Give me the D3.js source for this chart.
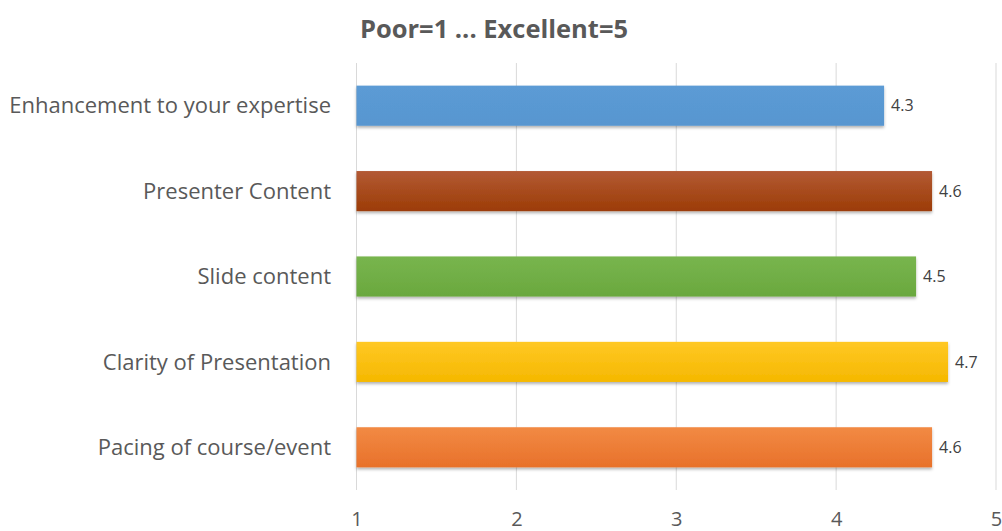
<!DOCTYPE html>
<html><head><meta charset="utf-8">
<script src="https://cdn.jsdelivr.net/npm/d3@7"></script>
<style>body{margin:0;background:#fff;}svg{display:block;}</style>
</head><body>
<svg id="c" width="1002" height="531"></svg>
<script>
const categories = ["Enhancement to your expertise","Presenter Content","Slide content","Clarity of Presentation","Pacing of course/event"];
const values = [4.3, 4.6, 4.5, 4.7, 4.6];
const valueLabels = ["4.3","4.6","4.5","4.7","4.6"];
const colorsTop = ["#5b9bd5","#b35a35","#78b54e","#ffc824","#f28a44"];
const colorsBot = ["#5896d0","#9c3c06","#6aa83e","#f5b800","#e8712a"];
const tickValues = [1,2,3,4,5];
const title = "Poor=1 ... Excellent=5";

const svg = d3.select("#c");
const x = d3.scaleLinear().domain([1,5]).range([356.5,996]);
const y = d3.scaleBand().domain(categories).range([63,490]).paddingInner(0.53).paddingOuter(0.265);

const defs = svg.append("defs");
categories.forEach((c,i)=>{
  const g = defs.append("linearGradient").attr("id","g"+i).attr("x1",0).attr("y1",0).attr("x2",0).attr("y2",1);
  g.append("stop").attr("offset","0%").attr("stop-color",colorsTop[i]);
  g.append("stop").attr("offset","100%").attr("stop-color",colorsBot[i]);
});
const f = defs.append("filter").attr("id","sh").attr("x","-5%").attr("y","-20%").attr("width","110%").attr("height","160%");
f.append("feDropShadow").attr("dx",0).attr("dy",2).attr("stdDeviation",1.5).attr("flood-color","#000").attr("flood-opacity",0.3);

// gridlines
svg.append("g").selectAll("line").data(tickValues).join("line")
  .attr("x1",d=>x(d)).attr("x2",d=>x(d)).attr("y1",63).attr("y2",490)
  .attr("stroke","#d9d9d9").attr("stroke-width",1);

// bars
svg.append("g").selectAll("rect").data(categories).join("rect")
  .attr("x",x(1)).attr("y",d=>y(d)).attr("height",y.bandwidth())
  .attr("width",(d,i)=>x(values[i])-x(1))
  .attr("fill",(d,i)=>"url(#g"+i+")").attr("filter","url(#sh)");

// value labels
svg.append("g").selectAll("text").data(categories).join("text")
  .attr("x",(d,i)=>x(values[i])+7).attr("y",d=>y(d)+y.bandwidth()/2)
  .attr("dy","0.35em").attr("font-family","Open Sans, sans-serif").attr("font-size",16)
  .attr("fill","#404040").text((d,i)=>valueLabels[i]);

// category labels
svg.append("g").selectAll("text").data(categories).join("text")
  .attr("x",331).attr("y",d=>y(d)+y.bandwidth()/2)
  .attr("dy","0.35em").attr("text-anchor","end")
  .attr("font-family","Open Sans, sans-serif").attr("font-size",22)
  .attr("fill","#595959").text(d=>d);

// x axis tick labels
const xAxis = d3.axisBottom(x).tickValues(tickValues).tickSize(0).tickFormat(d3.format("d"));
const ax = svg.append("g").attr("transform","translate(0,509)").call(xAxis);
ax.select(".domain").remove();
ax.selectAll("text").attr("font-family","Open Sans, sans-serif").attr("font-size",20).attr("fill","#595959");

svg.append("text").attr("x",494).attr("y",38).attr("text-anchor","middle")
  .attr("font-family","Open Sans, sans-serif").attr("font-weight","bold").attr("font-size",25.5)
  .attr("fill","#595959").text(title);
</script>
</body></html>
